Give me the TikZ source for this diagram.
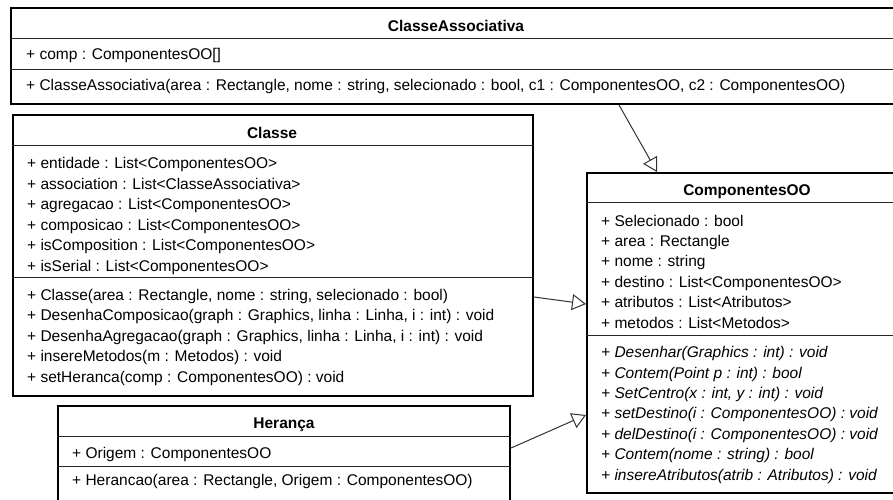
\documentclass[tikz,border=0pt]{standalone}
\usepackage{fontspec}
\setmainfont{Liberation Sans}
\usetikzlibrary{arrows.meta}

\begin{document}
\begin{tikzpicture}[x=1pt,y=-1pt,
  classbox/.style={draw=black, line width=2pt, fill=white, rectangle, inner sep=0pt, anchor=north west},
  divider/.style={draw=black!85, line width=1pt},
  title/.style={font=\fontsize{15.5}{20}\selectfont\bfseries, anchor=base, inner sep=0pt},
  member/.style={font=\fontsize{15.5}{20}\selectfont, anchor=base west, inner sep=0pt},
  absmember/.style={font=\fontsize{15.5}{20}\selectfont\itshape, anchor=base west, inner sep=0pt},
  gen/.style={draw=black!80, line width=1pt, -{Triangle[open, length=14pt, width=16pt, line width=1pt, fill=white]}}
]
\useasboundingbox (0,0) rectangle (893,499);
\fill[white] (0,0) rectangle (893,499);
\clip (0,0) rectangle (893,499);

% ---- ClasseAssociativa ----
\node[classbox, minimum width=892pt, minimum height=96pt] (assoc) at (10,7) {};
\draw[divider] (assoc.west |- 0,38) -- (assoc.east |- 0,38);
\draw[divider] (assoc.west |- 0,69) -- (assoc.east |- 0,69);
\node[title] (assocT) at (456,31) {ClasseAssociativa};
\node[member] (assocA1) at (26,59) {+ comp : ComponentesOO[]};
\node[member] (assocM1) at (26,90) {+ ClasseAssociativa(area : Rectangle, nome : string, selecionado : bool, c1 : ComponentesOO, c2 : ComponentesOO)};

% ---- Classe ----
\node[classbox, minimum width=520pt, minimum height=281pt] (classe) at (12,114) {};
\draw[divider] (classe.west |- 0,145) -- (classe.east |- 0,145);
\draw[divider] (classe.west |- 0,277) -- (classe.east |- 0,277);
\node[title] (classeT) at (272,138) {Classe};
\node[member] (classeA1) at (27,168.5) {+ entidade : List<ComponentesOO>};
\node[member] (classeA2) at (27,189) {+ association : List<ClasseAssociativa>};
\node[member] (classeA3) at (27,209.5) {+ agregacao : List<ComponentesOO>};
\node[member] (classeA4) at (27,230) {+ composicao : List<ComponentesOO>};
\node[member] (classeA5) at (27,250.5) {+ isComposition : List<ComponentesOO>};
\node[member] (classeA6) at (27,271) {+ isSerial : List<ComponentesOO>};
\node[member] (classeM1) at (27,300) {+ Classe(area : Rectangle, nome : string, selecionado : bool)};
\node[member] (classeM2) at (27,320.5) {+ DesenhaComposicao(graph : Graphics, linha : Linha, i : int) : void};
\node[member] (classeM3) at (27,341) {+ DesenhaAgregacao(graph : Graphics, linha : Linha, i : int) : void};
\node[member] (classeM4) at (27,361.5) {+ insereMetodos(m : Metodos) : void};
\node[member] (classeM5) at (27,382) {+ setHeranca(comp : ComponentesOO) : void};

% ---- ComponentesOO ----
\node[classbox, minimum width=322pt, minimum height=320pt] (comp) at (586,172) {};
\draw[divider] (comp.west |- 0,202) -- (comp.east |- 0,202);
\draw[divider] (comp.west |- 0,335) -- (comp.east |- 0,335);
\node[title] (compT) at (747,195) {ComponentesOO};
\node[member] (compA1) at (601,226) {+ Selecionado : bool};
\node[member] (compA2) at (601,246.4) {+ area : Rectangle};
\node[member] (compA3) at (601,266.8) {+ nome : string};
\node[member] (compA4) at (601,287.2) {+ destino : List<ComponentesOO>};
\node[member] (compA5) at (601,307.6) {+ atributos : List<Atributos>};
\node[member] (compA6) at (601,328) {+ metodos : List<Metodos>};
\node[absmember] (compM1) at (601,357.5) {+ Desenhar(Graphics : int) : void};
\node[absmember] (compM2) at (601,378) {+ Contem(Point p : int) : bool};
\node[absmember] (compM3) at (601,398.4) {+ SetCentro(x : int, y : int) : void};
\node[absmember] (compM4) at (601,418.8) {+ setDestino(i : ComponentesOO) : void};
\node[absmember] (compM5) at (601,439.2) {+ delDestino(i : ComponentesOO) : void};
\node[absmember] (compM6) at (601,459.6) {+ Contem(nome : string) : bool};
\node[absmember] (compM7) at (601,480.5) {+ insereAtributos(atrib : Atributos) : void};

% ---- Heranca ----
\node[classbox, minimum width=452pt, minimum height=100pt] (heranca) at (57,405) {};
\draw[divider] (heranca.west |- 0,436) -- (heranca.east |- 0,436);
\draw[divider] (heranca.west |- 0,466) -- (heranca.east |- 0,466);
\node[title] (herancaT) at (284,428) {Herança};
\node[member] (herancaA1) at (72,458.5) {+ Origem : ComponentesOO};
\node[member] (herancaM1) at (72,485) {+ Herancao(area : Rectangle, Origem : ComponentesOO)};

% ---- generalisations ----
\draw[gen] (assoc.south -| 619,0) -- (comp.north -| 657,0);
\draw[gen] (classe.east |- 0,297) -- (comp.west |- 0,304);
\draw[gen] (heranca.east |- 0,448) -- (comp.west |- 0,415);
\end{tikzpicture}
\end{document}
